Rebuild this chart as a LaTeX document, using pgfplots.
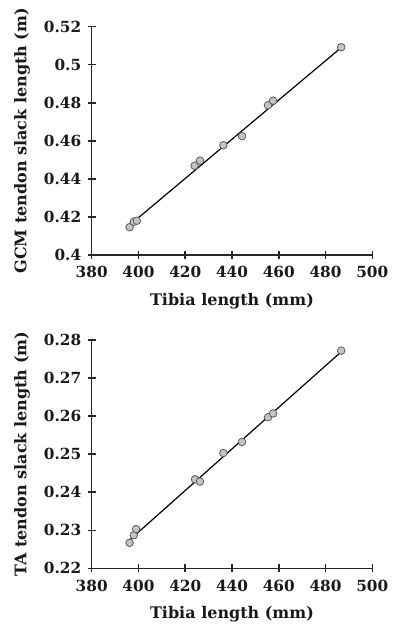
\documentclass[border=0pt]{standalone}
\usepackage{fontspec}
\setmainfont{DejaVu Serif}
\usepackage{pgfplots}
\pgfplotsset{compat=1.18}
\definecolor{markfill}{HTML}{C4C4C4}
\definecolor{markdraw}{HTML}{5A5A5A}
\pgfplotsset{
  myaxis/.style={
    scale only axis,
    width=280.6pt, height=228.3pt,
    axis x line=bottom, axis y line=left,
    axis line style={-, line width=1.5pt, black!85},
    major tick style={line width=1.5pt, black!85},
    tick align=center,
    major tick length=8pt,
    xmin=380, xmax=500,
    xtick={380,400,...,500},
    /pgf/number format/assume math mode=true,
    ticklabel style={font=\fontsize{15.3}{17}\selectfont\bfseries, black!90},
    yticklabel style={xshift=-3pt},
    xticklabel style={yshift=-4pt},
    label style={font=\fontsize{16}{18}\selectfont\bfseries, black!90},
    xlabel={Tibia length (mm)},
    xlabel style={at={(axis description cs:0.5,-0.203)}, anchor=center},
    ylabel style={at={(axis description cs:-0.248,0.5)}, anchor=center, rotate=0},
    clip=false,
  },
  pts/.style={only marks, mark=*, mark size=3.8pt,
    mark options={fill=markfill, draw=markdraw, line width=0.8pt}},
  fit/.style={no marks, line width=1.2pt, black},
}
\begin{document}
\begin{tikzpicture}
\useasboundingbox (-91.7pt,-65.7pt) rectangle (300.3pt,568.3pt);
\begin{axis}[myaxis, at={(0pt,313.3pt)},
  ymin=0.4, ymax=0.52, ytick={0.4,0.42,...,0.52},
  ylabel={GCM tendon slack length (m)}]
\addplot[pts] coordinates {
 (396.2,0.4146) (398.0,0.4175) (399.3,0.4180) (424.0,0.4469) (426.3,0.4496)
 (436.3,0.4577) (444.3,0.4625) (455.4,0.4787) (457.6,0.4811) (486.7,0.5092)};
\addplot[fit] coordinates {(396.5,0.4160) (486.7,0.5090)};
\end{axis}
\begin{axis}[myaxis, at={(0pt,0pt)},
  ymin=0.22, ymax=0.28, ytick={0.22,0.23,...,0.28},
  ylabel={TA tendon slack length (m)}]
\addplot[pts] coordinates {
 (396.2,0.2267) (398.0,0.2287) (399.0,0.2303) (424.2,0.2434) (426.3,0.2428)
 (436.3,0.2503) (444.3,0.2532) (455.4,0.2597) (457.6,0.2607) (486.7,0.2772)};
\addplot[fit] coordinates {(396.5,0.2276) (486.7,0.2769)};
\end{axis}
\end{tikzpicture}
\end{document}
